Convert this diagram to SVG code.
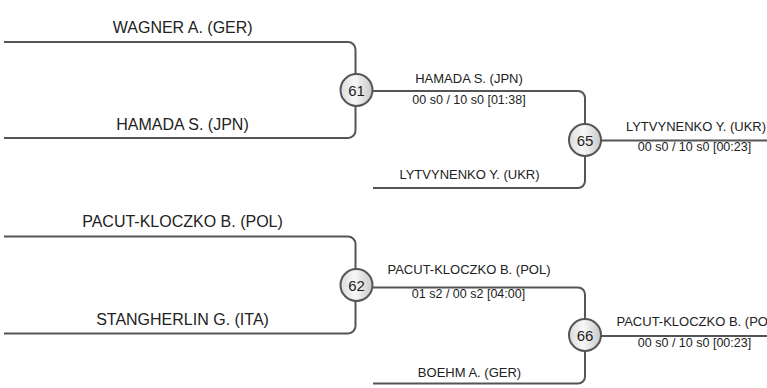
<svg xmlns="http://www.w3.org/2000/svg" width="767" height="388" viewBox="0 0 767 388">
<defs>
<linearGradient id="g" x1="0" y1="0" x2="1" y2="0">
<stop offset="0" stop-color="#dcdcdc"/>
<stop offset="0.45" stop-color="#f7f7f7"/>
<stop offset="1" stop-color="#c8c8c8"/>
</linearGradient>
<style>
.c{fill:none;stroke:#555;stroke-width:2}
.n{fill:url(#g);stroke:#555;stroke-width:2}
.nt{font-family:"Liberation Sans",Arial,sans-serif;font-size:15px;fill:#222;text-anchor:middle}
.big{font-family:"Liberation Sans",Arial,sans-serif;font-size:16px;fill:#222;text-anchor:middle}
.sm{font-family:"Liberation Sans",Arial,sans-serif;font-size:13px;fill:#222;text-anchor:middle}
.sc{font-family:"Liberation Sans",Arial,sans-serif;font-size:12.5px;fill:#222;text-anchor:middle}
</style>
</defs>
<rect width="767" height="388" fill="#fff"/>
<g id="connectors">
<path class="c" d="M4,42 H348 A7.5,7.5 0 0 1 355.5,49.5 V130.5 A7.5,7.5 0 0 1 348,138 H4"/>
<path class="c" d="M356,91 H578 A7,7 0 0 1 585,98 V181 A7,7 0 0 1 578,188 H373"/>
<path class="c" d="M585,140.5 H767"/>
<path class="c" d="M4,236.5 H348 A7.5,7.5 0 0 1 355.5,244 V326 A7.5,7.5 0 0 1 348,333.5 H4"/>
<path class="c" d="M356,287.5 H578 A7,7 0 0 1 585,294.5 V376.5 A7,7 0 0 1 578,383.5 H373"/>
<path class="c" d="M585,336 H767"/>
</g>
<g id="labels">
<text class="big" x="182.7" y="33">WAGNER A. (GER)</text>
<text class="big" x="182.5" y="130">HAMADA S. (JPN)</text>
<text class="big" x="182.5" y="227">PACUT-KLOCZKO B. (POL)</text>
<text class="big" x="182.5" y="324.5">STANGHERLIN G. (ITA)</text>
<text class="sm" x="469" y="82.5">HAMADA S. (JPN)</text>
<text class="sc" x="469" y="104">00 s0 / 10 s0 [01:38]</text>
<text class="sm" x="469.5" y="178.5">LYTVYNENKO Y. (UKR)</text>
<text class="sm" x="696" y="131">LYTVYNENKO Y. (UKR)</text>
<text class="sc" x="694.5" y="151">00 s0 / 10 s0 [00:23]</text>
<text class="sm" x="469" y="274">PACUT-KLOCZKO B. (POL)</text>
<text class="sc" x="468.5" y="298">01 s2 / 00 s2 [04:00]</text>
<text class="sm" x="469.5" y="377">BOEHM A. (GER)</text>
<text class="sm" x="698" y="325.5">PACUT-KLOCZKO B. (POL)</text>
<text class="sc" x="694.5" y="346.5">00 s0 / 10 s0 [00:23]</text>
</g>
<g id="node-61"><circle class="n" cx="356.5" cy="90" r="16"/><text class="nt" x="356.5" y="95.5">61</text></g>
<g id="node-65"><circle class="n" cx="585" cy="140" r="16"/><text class="nt" x="585" y="145.5">65</text></g>
<g id="node-62"><circle class="n" cx="356.5" cy="285" r="16"/><text class="nt" x="356.5" y="290.5">62</text></g>
<g id="node-66"><circle class="n" cx="585" cy="335" r="16"/><text class="nt" x="585" y="340.5">66</text></g>
</svg>
